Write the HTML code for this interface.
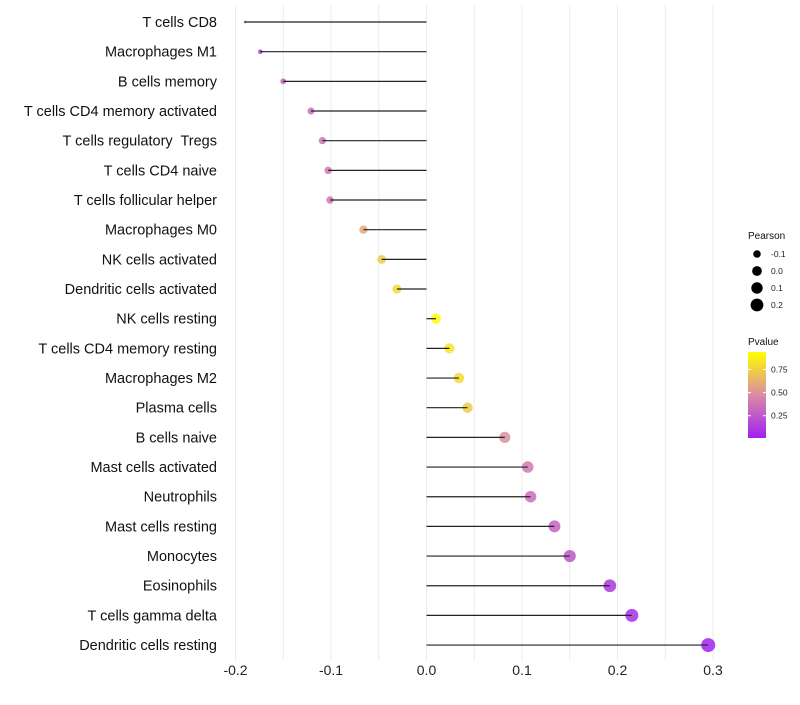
<!DOCTYPE html>
<html><head><meta charset="utf-8"><style>
body{margin:0;background:#fff;font-family:"Liberation Sans",sans-serif;}
svg text{font-family:"Liberation Sans",sans-serif;white-space:pre;}
</style></head><body>
<svg id="c" width="800" height="700"></svg>
<script>
const categories=["T cells CD8","Macrophages M1","B cells memory","T cells CD4 memory activated","T cells regulatory  Tregs","T cells CD4 naive","T cells follicular helper","Macrophages M0","NK cells activated","Dendritic cells activated","NK cells resting","T cells CD4 memory resting","Macrophages M2","Plasma cells","B cells naive","Mast cells activated","Neutrophils","Mast cells resting","Monocytes","Eosinophils","T cells gamma delta","Dendritic cells resting"];
const pearson=[-0.190,-0.174,-0.150,-0.121,-0.109,-0.103,-0.101,-0.066,-0.047,-0.031,0.010,0.024,0.034,0.043,0.082,0.106,0.109,0.134,0.150,0.192,0.215,0.295];
const pvalue=[0.10,0.15,0.30,0.35,0.38,0.40,0.40,0.60,0.75,0.80,0.95,0.85,0.80,0.75,0.50,0.40,0.35,0.30,0.25,0.12,0.08,0.03];
const xTicks=[-0.2,-0.1,0,0.1,0.2,0.3];
const xTickLabels=["-0.2","-0.1","0.0","0.1","0.2","0.3"];
const sizeLegend=[-0.1,0,0.1,0.2];
const pLegendTicks=[0.25,0.5,0.75];
const NS="http://www.w3.org/2000/svg";
const svg=document.getElementById('c');
function el(t,a,p){const e=document.createElementNS(NS,t);for(const k in a)e.setAttribute(k,a[k]);(p||svg).appendChild(e);return e;}
const x=v=>426.5+v*955;
const y=i=>22+i*29.67;
const pMin=Math.min(...pearson),pMax=Math.max(...pearson);
const r=v=>1.3+5.7*Math.sqrt(Math.max(0,(v-pMin)/(pMax-pMin)));
function col(p){const t=Math.max(0,Math.min(1,(p-0.02)/0.93));
 const a=[160,32,240],m=[218,140,165],b=[255,255,0];let c;
 if(t<0.5){const u=t/0.5;c=a.map((v,i)=>v+(m[i]-v)*u);}else{const u=(t-0.5)/0.5;c=m.map((v,i)=>v+(b[i]-v)*u);}
 return `rgb(${c.map(Math.round).join(',')})`;}
for(let v=-0.2;v<=0.3001;v+=0.05){const g=el('line',{x1:x(v),x2:x(v),y1:5,y2:660,stroke:'#ebebeb','stroke-width':1});

}
xTicks.forEach((v,i)=>{const t=el('text',{x:x(v),y:675,'text-anchor':'middle','font-size':14,fill:'#222'});t.textContent=xTickLabels[i];

});
categories.forEach((c,i)=>{
 const t=el('text',{x:217,y:y(i)+5,'text-anchor':'end','font-size':14.5,fill:'#111'});t.textContent=c;
 
 
 const d=el('circle',{cx:x(pearson[i]),cy:y(i),r:r(pearson[i]),fill:col(pvalue[i]),'fill-opacity':0.85});
 
 
 const l=el('line',{x1:x(0),x2:x(pearson[i]),y1:y(i),y2:y(i),stroke:'#222','stroke-width':1.2});
 
 
});
let t=el('text',{x:748,y:239,'font-size':10,fill:'#111'});t.textContent='Pearson';


sizeLegend.forEach((v,i)=>{const cy=254+i*17;
 const c=el('circle',{cx:757,cy:cy,r:r(v),fill:'#000'});
 
 
 const tt=el('text',{x:771,y:cy+3,'font-size':8.5,fill:'#222'});tt.textContent=v.toFixed(1);
 
 });
t=el('text',{x:748,y:345,'font-size':10,fill:'#111'});t.textContent='Pvalue';


const defs=el('defs',{});const lg=el('linearGradient',{id:'g',x1:0,y1:1,x2:0,y2:0},defs);
for(let k=0;k<=10;k++){el('stop',{offset:k/10,'stop-color':col(0.02+k*0.093)},lg);}
const bar=el('rect',{x:748,y:352,width:18,height:86,fill:'url(#g)'});


pLegendTicks.forEach(v=>{const yy=437-(v-0.02)/0.93*86;
 el('line',{x1:748,x2:751,y1:yy,y2:yy,stroke:'#fff'});el('line',{x1:763,x2:766,y1:yy,y2:yy,stroke:'#fff'});
 const tt=el('text',{x:771,y:yy+3,'font-size':8.5,fill:'#222'});tt.textContent=v.toFixed(2);
 
 });
</script>
</body></html>
